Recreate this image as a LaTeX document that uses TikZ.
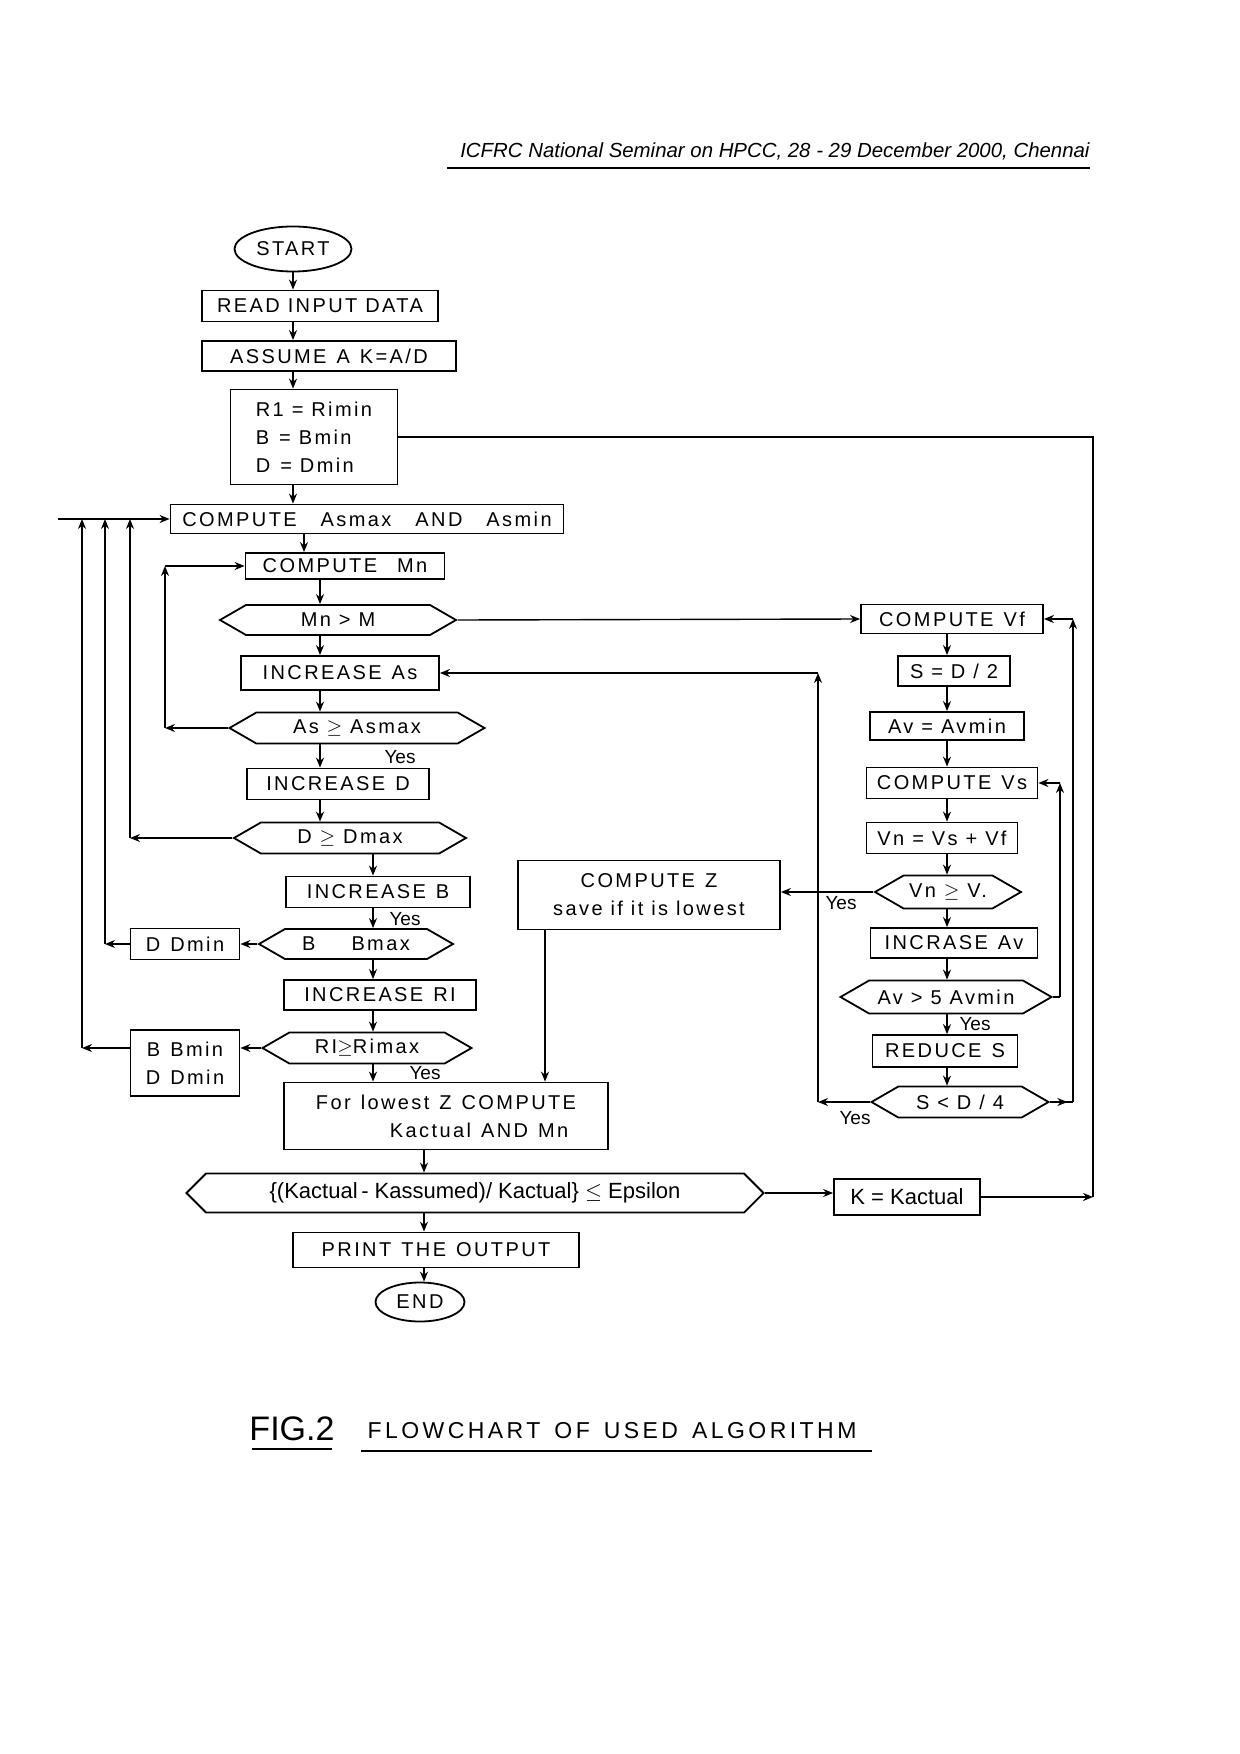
\documentclass[tikz,border=0pt]{standalone}
\usepackage{fontspec}
\setmainfont{Liberation Sans}
\newfontfamily\lf[LetterSpace=12]{Liberation Sans}
\newfontfamily\hf{Liberation Sans}
\newfontfamily\cf[LetterSpace=15]{Liberation Sans}
\usetikzlibrary{shapes.geometric,shapes.symbols,arrows.meta,calc}
\newcommand{\gp}{\hspace{5pt}}
\begin{document}
\begin{tikzpicture}[x=0.5pt,y=-0.5pt,
  box/.style={draw,line width=0.9pt,font=\lf\fontsize{10}{14}\selectfont,inner sep=2pt},
  hex/.style={draw,line width=0.9pt,shape=signal,signal to=west and east,signal pointer angle=60,font=\lf\fontsize{10}{13}\selectfont,inner sep=1pt},
  term/.style={draw,line width=0.9pt,ellipse,font=\lf\fontsize{10}{13}\selectfont,inner sep=0pt},
  conn/.style={line width=0.7pt},
  arr/.style={conn,-{Stealth[length=5pt,width=4pt]}},
  lbl/.style={font=\hf\fontsize{9.5}{10}\selectfont,inner sep=1pt},
]
\useasboundingbox (0,0) rectangle (1240,1754);

% header
\node[anchor=east,font=\hf\itshape\fontsize{10.2}{12}\selectfont,inner sep=0pt] (hdr) at (1090,151) {ICFRC National Seminar on HPCC, 28 - 29 December 2000, Chennai};
\draw[line width=0.6pt] (447,168) -- (1090,168);

% column x positions
\coordinate (cA) at (293,0);
\coordinate (cB) at (304,0);
\coordinate (cC) at (320,0);
\coordinate (cD) at (373,0);
\coordinate (cE) at (424,0);
\coordinate (cR) at (947,0);
\coordinate (cZ) at (545,0);
\coordinate (xL0) at (58,0);
\coordinate (xL1) at (82,0);
\coordinate (xL2) at (105,0);
\coordinate (xL3) at (130,0);
\coordinate (xL4) at (165,0);
\coordinate (xR0) at (818,0);
\coordinate (xR1) at (1060,0);
\coordinate (xR2) at (1073,0);
\coordinate (xR3) at (1093,0);

% main column
\node[term,minimum width=58.5pt,minimum height=22.5pt] (start) at (293,249) {START};
\node[box,minimum width=118pt,minimum height=15.5pt] (read) at (320,306) {READ INPUT DATA};
\node[box,minimum width=127pt,minimum height=15pt] (assume) at (329,356) {ASSUME\gp A\gp K=A/D};
\node[box,minimum width=83.5pt,minimum height=47.5pt,align=left] (init) at (314,437) {R1 = Rimin\\B\gp = Bmin\\D\gp = Dmin};
\node[box,minimum width=196.5pt,minimum height=14.5pt] (casm) at (367,519) {COMPUTE\hspace{12pt}Asmax\hspace{12pt}AND\hspace{12pt}Asmin};
\node[box,minimum width=99.5pt,minimum height=13pt] (cmn) at (345,566) {COMPUTE\hspace{10pt}Mn};
\node[hex,minimum width=118pt,minimum height=15pt] (mnm) at (338,620) {Mn > M};
\node[box,minimum width=99pt,minimum height=17pt] (incas) at (340,673) {INCREASE\gp As};
\node[hex,minimum width=127.5pt,minimum height=15.5pt] (asq) at (357,728) {As $\geq$ Asmax};
\node[box,minimum width=91pt,minimum height=15.5pt] (incd) at (338,784) {INCREASE\gp D};
\node[hex,minimum width=116pt,minimum height=15.5pt] (dq) at (350,838) {D $\geq$ Dmax};
\node[box,minimum width=92pt,minimum height=15.5pt] (incb) at (378,892) {INCREASE\gp B};
\node[hex,minimum width=97pt,minimum height=15pt] (bq) at (356,944) {B\hspace{18pt}Bmax};
\node[box,minimum width=54.5pt,minimum height=15.5pt] (ddmin) at (185,944) {D\gp Dmin};
\node[box,minimum width=96pt,minimum height=15pt] (incr) at (380,995) {INCREASE\gp RI};
\node[hex,minimum width=104.5pt,minimum height=15.5pt] (rq) at (367,1048) {RI$\geq$Rimax};
\node[box,minimum width=54.5pt,minimum height=33pt,align=center] (bbmin) at (185,1063) {B\gp Bmin\\D\gp Dmin};
\node[box,minimum width=162pt,minimum height=33.5pt,align=left] (lowz) at (446,1116) {For\gp lowest\gp Z\gp COMPUTE\\\hspace{37pt}Kactual\gp AND\gp Mn};
\node[hex,minimum width=288.5pt,minimum height=19.5pt,signal pointer angle=90,font=\hf\fontsize{11}{13}\selectfont] (eps) at (475,1193) {\{(Kactual\,- Kassumed)/ Kactual\} $\leq$ Epsilon};
\node[box,minimum width=73pt,minimum height=18pt,font=\hf\fontsize{11}{13}\selectfont] (kact) at (907,1197) {K = Kactual};
\node[box,minimum width=143pt,minimum height=17.5pt] (print) at (436,1250) {PRINT\gp THE\gp OUTPUT};
\node[term,minimum width=44.5pt,minimum height=19.5pt] (end) at (420,1302) {END};

% right column
\node[box,minimum width=91pt,minimum height=14.5pt] (cvf) at (952,619) {COMPUTE\gp Vf};
\node[box,minimum width=56pt,minimum height=15pt] (sd2) at (954,671) {S = D / 2};
\node[box,minimum width=77pt,minimum height=14pt] (avmin) at (947,726) {Av = Avmin};
\node[box,minimum width=85.5pt,minimum height=15.5pt] (cvs) at (952,783) {COMPUTE\gp Vs};
\node[box,minimum width=75.5pt,minimum height=15.5pt] (vn) at (942,838) {Vn = Vs + Vf};
\node[hex,minimum width=73pt,minimum height=16.5pt] (vnq) at (948,892) {Vn $\geq$ V.};
\node[box,minimum width=83.5pt,minimum height=15pt] (incav) at (954,943) {INCRASE\gp Av};
\node[hex,minimum width=105.5pt,minimum height=16.5pt] (avq) at (946,997) {Av > 5 Avmin};
\node[box,minimum width=72.5pt,minimum height=16pt] (reds) at (945,1051) {REDUCE\gp S};
\node[hex,minimum width=88.5pt,minimum height=15.5pt] (sq) at (960,1102) {S < D / 4};
\node[box,minimum width=131pt,minimum height=34.5pt,align=center] (cz) at (649,895) {COMPUTE\gp Z\\save if it is lowest};

% main vertical flow
\draw[arr] (start.south -| cA) -- (read.north -| cA);
\draw[arr] (read.south -| cA) -- (assume.north -| cA);
\draw[arr] (assume.south -| cA) -- (init.north -| cA);
\draw[arr] (init.south -| cA) -- (casm.north -| cA);
\draw[arr] (casm.south -| cB) -- (cmn.north -| cB);
\draw[arr] (cmn.south -| cC) -- (mnm.north -| cC);
\draw[arr] (mnm.south -| cC) -- (incas.north -| cC);
\draw[arr] (incas.south -| cC) -- (asq.north -| cC);
\draw[arr] (asq.south -| cC) -- (incd.north -| cC);
\draw[arr] (incd.south -| cC) -- (dq.north -| cC);
\draw[arr] (dq.south -| cD) -- (incb.north -| cD);
\draw[arr] (incb.south -| cD) -- (bq.north -| cD);
\draw[arr] (bq.south -| cD) -- (incr.north -| cD);
\draw[arr] (incr.south -| cD) -- (rq.north -| cD);
\draw[arr] (rq.south -| cD) -- (lowz.north -| cD);
\draw[arr] (lowz.south -| cE) -- (eps.north -| cE);
\draw[arr] (eps.south -| cE) -- (print.north -| cE);
\draw[arr] (print.south -| cE) -- (end.north -| cE);

% Yes labels (main)
\node[lbl] (y1) at (400,757) {Yes};
\node[lbl] (y2) at (405,919) {Yes};
\node[lbl] (y3) at (425,1073) {Yes};

% left loops
\coordinate (l4b) at (asq.west -| xL4);
\coordinate (l4t) at (cmn.west -| xL4);
\draw[arr] (asq.west) -- (l4b);
\draw[arr] (l4b) -- (l4t);
\draw[arr] (l4t) -- (cmn.west);

\coordinate (l0) at (casm.west -| xL0);
\draw[arr] (l0) -- (casm.west);

\coordinate (l3b) at (dq.west -| xL3);
\coordinate (l3t) at (casm.west -| xL3);
\draw[arr] (dq.west) -- (l3b);
\draw[arr] (l3b) -- (l3t);

\draw[arr] (bq.west) -- (ddmin.east);
\coordinate (l2b) at (ddmin.west -| xL2);
\coordinate (l2t) at (casm.west -| xL2);
\draw[arr] (ddmin.west) -- (l2b);
\draw[arr] (l2b) -- (l2t);

\draw[arr] (rq.west) -- (bbmin.east |- rq.west);
\coordinate (l1b) at (rq.west -| xL1);
\coordinate (l1t) at (casm.west -| xL1);
\draw[arr] (bbmin.west |- rq.west) -- (l1b);
\draw[arr] (l1b) -- (l1t);

% right flow
\draw[arr] (mnm.east) -- (cvf.west);
\draw[arr] (cvf.south -| cR) -- (sd2.north -| cR);
\draw[arr] (sd2.south -| cR) -- (avmin.north -| cR);
\draw[arr] (avmin.south -| cR) -- (cvs.north -| cR);
\draw[arr] (cvs.south -| cR) -- (vn.north -| cR);
\draw[arr] (vn.south -| cR) -- (vnq.north -| cR);
\draw[arr] (vnq.south -| cR) -- (incav.north -| cR);
\draw[arr] (incav.south -| cR) -- (avq.north -| cR);
\draw[arr] (avq.south -| cR) -- (reds.north -| cR);
\draw[arr] (reds.south -| cR) -- (sq.north -| cR);

\draw[arr] (vnq.west) -- (cz.east |- vnq.west);
\node[lbl] (y4) at (841,903) {Yes};
\node[lbl] (y5) at (975,1024) {Yes};
\node[lbl] (y6) at (855,1118) {Yes};

\draw[arr] (cz.south -| cZ) -- (lowz.north -| cZ);

% S < D/4 yes loop to INCREASE As
\coordinate (r0b) at (sq.west -| xR0);
\coordinate (r0t) at (incas.east -| xR0);
\draw[arr] (sq.west) -- (r0b);
\draw[arr] (r0b) -- (r0t);
\draw[arr] (r0t) -- (incas.east);

% Av > 5 Avmin loop to COMPUTE Vs
\coordinate (r1b) at (avq.east -| xR1);
\coordinate (r1t) at (cvs.east -| xR1);
\draw[conn] (avq.east) -- (r1b);
\draw[arr] (r1b) -- (r1t);
\draw[arr] (r1t) -- (cvs.east);

% S < D/4 loop to COMPUTE Vf
\coordinate (r2b) at (sq.east -| xR2);
\coordinate (r2t) at (cvf.east -| xR2);
\draw[arr] (sq.east) -- ($(sq.east)!0.75!(r2b)$);
\draw[conn] (sq.east) -- (r2b);
\draw[arr] (r2b) -- (r2t);
\draw[arr] (r2t) -- (cvf.east);

% epsilon to K and back to start values
\draw[arr] (eps.east) -- (kact.west |- eps.east);
\coordinate (r3b) at (kact.east -| xR3);
\coordinate (r3t) at (init.east -| xR3);
\draw[arr] (kact.east) -- (r3b);
\draw[conn] (r3b) -- (r3t) -- (init.east);

% caption
\node[font=\hf\fontsize{17}{20}\selectfont,inner sep=0pt] (fig) at (292,1429) {FIG.2};
\draw[line width=1pt] (252,1449) -- (332,1449);
\node[font=\cf\fontsize{11.5}{14}\selectfont,inner sep=0pt] (cap) at (612,1431) {FLOWCHART\hspace{7pt}OF\hspace{7pt}USED\hspace{7pt}ALGORITHM};
\draw[line width=0.8pt] (361,1451) -- (872,1451);
\end{tikzpicture}
\end{document}
